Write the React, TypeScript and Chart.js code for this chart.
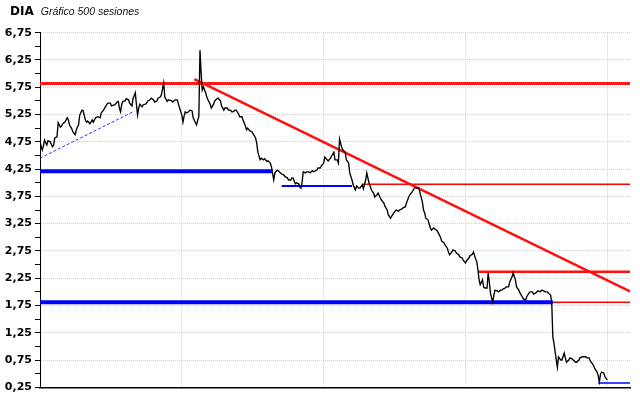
import React, { useEffect, useRef } from "react";
import { Chart, registerables } from "chart.js";

Chart.register(...registerables);

// ---- DATA ----
const sessions = [
  0, 2, 3, 4, 6, 7, 9, 11, 12, 13, 15, 16, 18, 19, 20, 22, 24, 25, 26, 28,
  29, 31, 32, 34, 35, 37, 38, 40, 41, 42, 44, 46, 47, 49, 51, 53, 54, 56, 59, 60,
  62, 63, 66, 68, 69, 70, 71, 72, 73, 75, 76, 78, 79, 81, 82, 84, 85, 86, 87, 88,
  90, 91, 93, 94, 95, 97, 98, 100, 101, 103, 104, 106, 107, 109, 110, 112, 113, 115, 116, 117,
  119, 121, 122, 123, 125, 126, 127, 128, 129, 131, 132, 134, 135, 137, 138, 139, 140, 141, 142, 143,
  144, 146, 147, 148, 150, 151, 153, 154, 156, 157, 159, 160, 162, 163, 165, 166, 168, 169, 170, 172,
  173, 175, 176,
  178, 179, 181, 182, 183, 185, 187, 188, 190, 191, 192, 193, 194, 195, 197, 198, 200, 201, 203, 204,
  206, 207, 209, 210, 212, 213, 215, 216, 218, 219, 221, 222, 223, 225, 226, 228, 229, 230, 231, 232,
  234, 235, 237, 238, 240, 241, 243, 244, 245, 247, 248, 250, 251, 253, 254, 256, 257, 259, 260, 262,
  263, 264,
  266, 267, 269, 270, 272, 273, 275, 276, 278, 279, 281, 282, 284, 285, 287, 288, 290, 291, 292, 294,
  295, 297, 298, 300, 301, 303, 304, 306, 307, 309, 310, 312, 313, 314, 316, 317, 319, 320, 322, 323,
  325, 326, 328, 329, 331, 332, 334, 335, 337, 338, 339, 340, 342, 344, 345, 347, 348, 350, 351, 353,
  354, 356, 357, 359, 360, 361, 363, 364, 366, 367, 369, 370, 372, 373, 375, 376, 378, 379, 381, 382,
  384, 385, 386, 387, 388, 390, 391, 392, 394, 395, 396, 397, 398, 399, 400, 401, 403, 404, 406, 407,
  408, 410, 411, 413, 414, 416, 417, 419, 420, 422, 423, 425, 426, 428, 429, 431, 432, 434, 435, 437,
  438, 439, 441, 442, 444, 445, 447, 448, 450, 451,
  452, 453, 454, 456, 457, 459, 460, 462, 463, 464, 466, 467, 469, 470, 472, 473, 475, 476, 478, 479,
  481, 482, 484, 485, 487, 488, 489, 491, 492, 493, 494, 495, 497, 498, 500,
];

const prices = [
  4.75, 4.6, 4.67, 4.78, 4.69, 4.77, 4.75, 4.66, 4.69, 4.82, 4.84, 5.1, 5.02, 5.04, 5.08, 5.11, 5.19, 5.15, 5.06, 4.99,
  4.93, 4.88, 4.97, 5.06, 5.24, 5.33, 5.32, 5.15, 5.11, 5.13, 5.08, 5.15, 5.11, 5.19, 5.21, 5.19, 5.28, 5.33, 5.44, 5.46,
  5.46, 5.41, 5.43, 5.48, 5.49, 5.37, 5.3, 5.43, 5.49, 5.5, 5.54, 5.52, 5.46, 5.41, 5.54, 5.65, 5.43, 5.24, 5.37, 5.44,
  5.39, 5.43, 5.44, 5.46, 5.5, 5.52, 5.55, 5.52, 5.48, 5.5, 5.55, 5.57, 5.61, 5.83, 5.57, 5.49, 5.52, 5.51, 5.5, 5.48,
  5.52, 5.52, 5.44, 5.37, 5.24, 5.11, 5.22, 5.3, 5.28, 5.3, 5.33, 5.32, 5.19, 5.1, 5.06, 5.15, 5.21, 6.43, 6.01, 5.7,
  5.76, 5.65, 5.57, 5.52, 5.44, 5.37, 5.44, 5.5, 5.54, 5.55, 5.5, 5.41, 5.33, 5.37, 5.37, 5.33, 5.33, 5.3, 5.3, 5.33,
  5.33, 5.26, 5.21,
  5.21, 5.15, 5.04, 4.97, 5.0, 4.95, 4.93, 4.89, 4.82, 4.73, 4.56, 4.49, 4.42, 4.45, 4.42, 4.44, 4.39, 4.4, 4.36, 4.29,
  4.05, 4.18, 4.23, 4.22, 4.18, 4.16, 4.14, 4.11, 4.09, 4.05, 4.05, 4.09, 4.09, 3.98, 4.0, 3.98, 3.92, 3.9, 4.01, 4.2,
  4.18, 4.2, 4.2, 4.18, 4.22, 4.2, 4.22, 4.23, 4.27, 4.27, 4.31, 4.36, 4.47, 4.42, 4.4, 4.45, 4.49, 4.56, 4.42, 4.42,
  4.36, 4.8,
  4.64, 4.6, 4.56, 4.42, 4.36, 4.18, 4.05, 3.96, 3.87, 3.94, 3.9, 3.9, 3.96, 3.89, 4.05, 4.18, 3.99, 3.94, 3.87, 3.81,
  3.74, 3.78, 3.81, 3.72, 3.68, 3.63, 3.57, 3.5, 3.41, 3.35, 3.39, 3.45, 3.48, 3.5, 3.48, 3.5, 3.52, 3.54, 3.56, 3.63,
  3.74, 3.78, 3.83, 3.87, 3.92, 3.9, 3.9, 3.81, 3.65, 3.5, 3.45, 3.35, 3.32, 3.17, 3.13, 3.17, 3.15, 3.12, 3.08, 3.0,
  2.93, 2.9, 2.86, 2.8, 2.73, 2.68, 2.73, 2.77, 2.75, 2.71, 2.68, 2.64, 2.62, 2.58, 2.53, 2.57, 2.62, 2.66, 2.69, 2.73,
  2.6, 2.55, 2.4, 2.22, 2.13, 2.22, 2.09, 2.07, 2.07, 2.35, 2.18, 1.98, 1.89, 1.81, 1.94, 2.03, 2.02, 2.0, 2.03, 2.03,
  2.05, 2.07, 2.09, 2.09, 2.18, 2.27, 2.35, 2.22, 2.09, 2.03, 1.98, 1.91, 1.87, 1.85, 1.91, 1.98, 2.0, 2.0, 1.96, 1.98,
  2.0, 2.02, 2.0, 2.03, 2.02, 2.0, 2.0, 1.98, 1.94, 1.81,
  1.17, 1.06, 0.9, 0.62, 0.81, 0.75, 0.75, 0.88, 0.79, 0.71, 0.75, 0.79, 0.77, 0.75, 0.71, 0.71, 0.75, 0.79, 0.81, 0.81,
  0.81, 0.79, 0.79, 0.73, 0.68, 0.64, 0.59, 0.53, 0.46, 0.35, 0.49, 0.53, 0.51, 0.44, 0.38,
];

// Drawn lines: [startSession, endSession, startValue, endValue]
const resistanceTop = [0, 520, 5.82, 5.82];
const supportHigh = [0, 205, 4.21, 4.21];
const supportLow = [0, 452, 1.81, 1.81];
const supportMid = [213, 275, 3.94, 3.94];
const resistanceMid = [284, 520, 3.97, 3.97];
const resistanceLow = [386, 520, 2.37, 2.37];
const resistanceBottom = [452, 520, 1.81, 1.81];
const supportBottom = [492, 520, 0.33, 0.33];
const downTrend = [136, 520, 5.9, 2.01];
const upTrend = [0, 82, 4.45, 5.3];

const sessionGrid = [125, 250, 375, 500];
const yTickValues = [
  0.25, 0.5, 0.75, 1.0, 1.25, 1.5, 1.75, 2.0, 2.25, 2.5, 2.75, 3.0, 3.25, 3.5,
  3.75, 4.0, 4.25, 4.5, 4.75, 5.0, 5.25, 5.5, 5.75, 6.0, 6.25, 6.5, 6.75,
];
const yLabelledTicks = [0.25, 0.75, 1.25, 1.75, 2.25, 2.75, 3.25, 3.75, 4.25, 4.75, 5.25, 5.75, 6.25, 6.75];

const isLabelled = (v: number) => yLabelledTicks.some((t) => Math.abs(t - v) < 1e-6);

export default function App() {
  const ref = useRef<HTMLCanvasElement>(null);

  useEffect(() => {
    const canvas = ref.current;
    if (!canvas) return;
    const seg = (l: number[], color: string, width: number, dash: number[] = []) => ({
      data: [
        { x: l[0], y: l[2] },
        { x: l[1], y: l[3] },
      ],
      borderColor: color,
      borderWidth: width,
      borderDash: dash,
      pointRadius: 0,
      fill: false,
      tension: 0,
    });
    const gridColor = "#d2d2d2";
    const chart = new Chart(canvas, {
      type: "line",
      data: {
        datasets: [
          {
            data: sessions.map((s, i) => ({ x: s, y: prices[i] })),
            borderColor: "#000000",
            borderWidth: 1.35,
            pointRadius: 0,
            fill: false,
            tension: 0,
          },
          seg(upTrend, "#3030ff", 1, [3, 2]),
          seg(downTrend, "#ff1010", 2.5),
          seg(supportBottom, "#0000ff", 1.5),
          seg(resistanceBottom, "#ff0000", 1.5),
          seg(resistanceLow, "#ff1010", 2.5),
          seg(resistanceMid, "#ff0000", 1.5),
          seg(supportMid, "#0000ff", 2),
          seg(supportLow, "#0000ff", 4),
          seg(supportHigh, "#0000ff", 4),
          seg(resistanceTop, "#ff1818", 3),
        ] as any,
      },
      options: {
        animation: false,
        responsive: false,
        maintainAspectRatio: false,
        events: [],
        layout: { padding: { top: 32.7, right: 10, bottom: 10.7, left: 0 } },
        plugins: { legend: { display: false }, tooltip: { enabled: false }, title: { display: false } },
        scales: {
          x: {
            type: "linear",
            min: 0,
            max: 520,
            afterBuildTicks: (scale: any) => {
              scale.ticks = sessionGrid.map((v) => ({ value: v }));
            },
            afterFit: (scale: any) => {
              scale.height = 0;
            },
            ticks: { display: false },
            grid: { color: gridColor, drawTicks: false, lineWidth: 1 },
            border: { display: true, color: "#000000", width: 1.5, dash: [1, 1] },
          },
          y: {
            type: "linear",
            min: 0.25,
            max: 6.75,
            afterBuildTicks: (scale: any) => {
              scale.ticks = yTickValues.map((v) => ({ value: v }));
            },
            afterFit: (scale: any) => {
              scale.width = 40;
            },
            ticks: {
              autoSkip: false,
              padding: 3,
              color: "#000000",
              font: { family: "DejaVu Sans", size: 11, weight: "bold" },
              callback: (v: any) => (isLabelled(Number(v)) ? Number(v).toFixed(2).replace(".", ",") : ""),
            },
            grid: {
              color: (c: any) => (c.tick && isLabelled(c.tick.value) ? gridColor : "rgba(0,0,0,0)"),
              tickColor: "#000000",
              tickLength: 5,
              lineWidth: 1,
            },
            border: { display: true, color: "#000000", width: 1, dash: [1, 1] },
          },
        },
      } as any,
    });
    return () => chart.destroy();
  }, []);

  return (
    <div style={{ position: "fixed", left: 0, top: 0, width: 640, height: 398, background: "#ffffff" }}>
      <canvas ref={ref} width={640} height={398} style={{ display: "block", width: 640, height: 398 }} />
      <div
        style={{
          position: "absolute",
          left: 10,
          top: 4,
          display: "flex",
          alignItems: "baseline",
          color: "#000",
          lineHeight: "14px",
          whiteSpace: "nowrap",
        }}
      >
        <span style={{ fontFamily: "DejaVu Sans", fontWeight: "bold", fontSize: 12 }}>DIA</span>
        <span style={{ fontFamily: "Liberation Sans", fontStyle: "italic", fontSize: 10.5, marginLeft: 7, color: "#111" }}>
          Gráfico 500 sesiones
        </span>
      </div>
    </div>
  );
}
